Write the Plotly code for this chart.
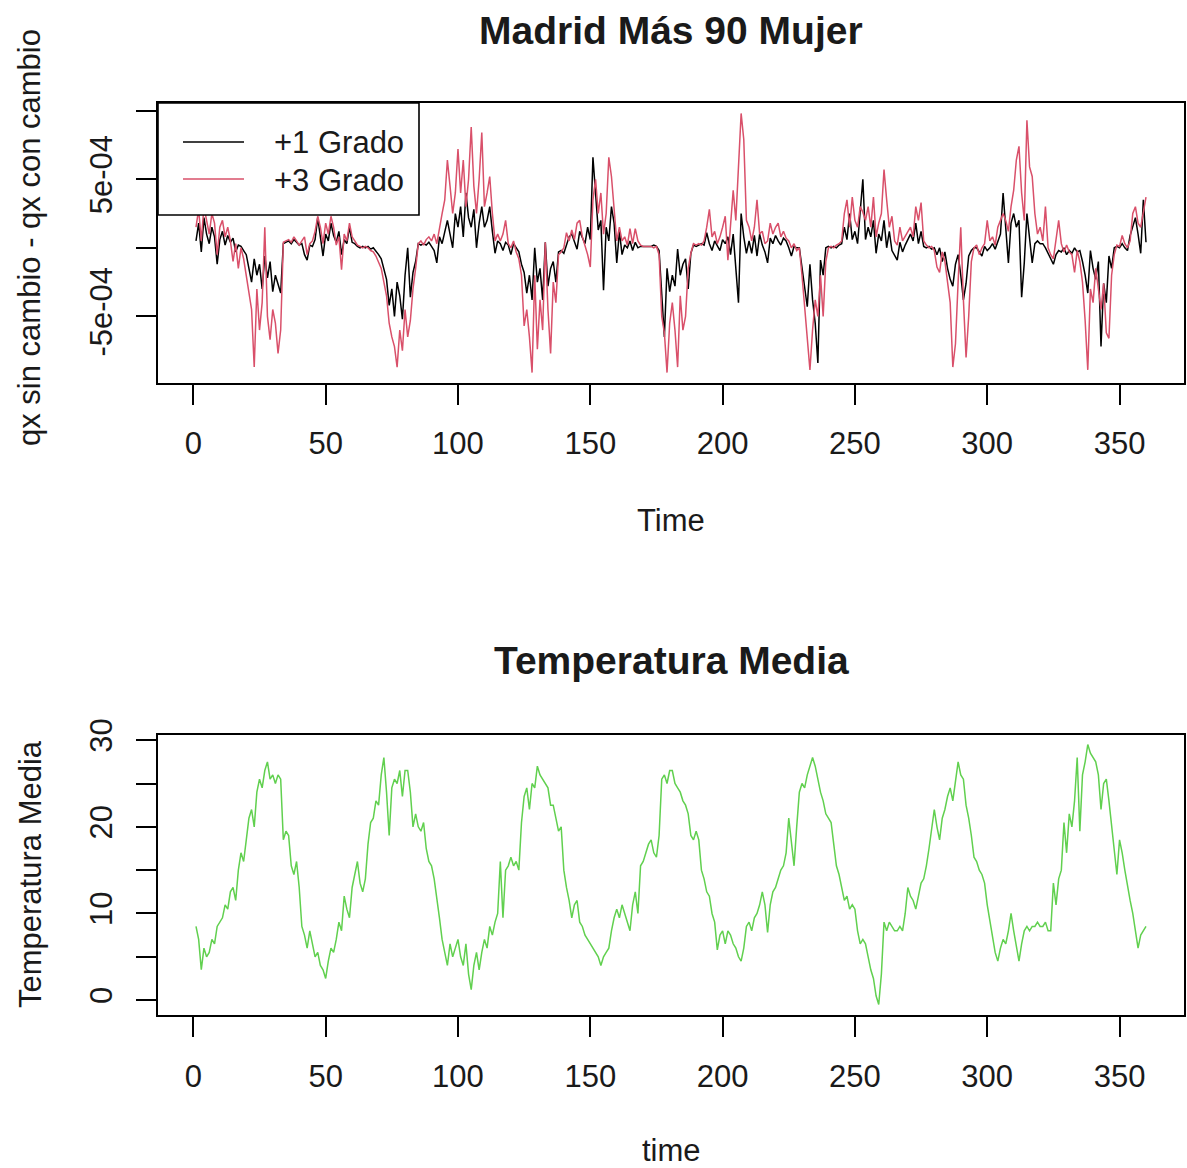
import plotly.graph_objects as go

W, H = 1187, 1168

# ---------------- data ----------------
SCALE = 1e-4  # the two qx series are written in units of 1e-4

plus1_grado = [
    0.5, 1.8, -0.3, 2.2, 1.0, 0.3, 1.5, 0.8, -1.2, 0.6,
    1.2, 0.2, 0.9, 0.4, 0.7, -0.3, 0.2, 0.1, -0.2, -0.5,
    -1.5, -2.5, -0.8, -2.0, -1.2, -3.0, -0.6, -2.2, -1.0, -3.2,
    -2.0, -2.6, -3.3, 0.3, 0.4, 0.5, 0.3, 0.6, 0.4, 0.2,
    0.3, -0.5, -0.9, 0.2, 0.1, 0.6, 2.2, 0.8, -0.6, 1.0,
    0.5, 1.8, 0.9, 0.4, 1.2, -0.5, 0.6, 0.3, 1.5, 0.4,
    0.3, 0.1, 0.0, 0.1, 0.0, 0.1, -0.1, 0.0, -0.3, -0.5,
    -0.8, -1.5, -2.3, -4.2, -3.0, -5.0, -2.5, -3.5, -5.2, -2.0,
    0.0, -3.6, -1.8, -1.0, 0.3, 0.2, 0.3, 0.2, 0.4, 0.1,
    -0.2, -1.1, 0.8, 0.3, 1.2, 2.0, 1.0, 0.0, 2.5, 1.5,
    3.0, 0.8, 4.0, 2.2, 1.5, 2.8, 0.0, 1.8, 3.0, 1.5,
    2.0, 3.0, 1.2, -0.4, 0.5, 0.3, -0.2, 0.4, 0.2, -0.5,
    0.3, 0.0, -0.3, -1.2, -1.8, -3.3, -2.0, -3.8, 0.0, -2.5,
    -1.5, -3.8, 0.4, -2.8, -1.5, -1.0, -2.5, -0.3, -0.2, -0.4,
    0.2, 0.8, 1.0, 0.5, -0.1, 1.2, 0.8, 0.3, 1.5, 0.6,
    6.6, 3.7, 1.3, 2.0, -3.1, 1.5, 0.5, 3.0, 1.8, -1.1,
    1.2, -0.5, 0.2, 0.0, 0.5, -0.2, 0.4, 0.0, 0.1, 0.1,
    0.1, 0.1, 0.1, 0.2, 0.1, -0.2, -3.1, -6.5, -1.5, -3.2,
    -2.0, -2.8, -0.1, -2.0, -1.2, -0.8, -3.0, -0.4, 0.2, 0.1,
    0.2, 0.3, 0.2, 1.1, 0.3, -0.2, 0.5, 0.1, -0.2, 0.6,
    0.3, 0.8, -0.5, 1.0, -1.4, -4.0, 2.5, 0.8, -0.4, 0.5,
    -0.4, 0.9, -0.6, 1.0, 0.2, -0.3, -1.1, 0.7, 0.3, 0.9,
    0.5, 0.2, 0.7, 0.5, 0.0, -0.6, 0.1, 0.0, 0.0, -1.4,
    -2.8, -4.3, -1.2, -3.8, -5.5, -8.4, -0.9, -2.0, 0.0, 0.1,
    0.0, 0.1, 0.0, 0.2, 0.3, 1.5, 0.6, 2.5, 0.6, 1.2,
    0.3, 2.6, 5.0, 0.6, 1.5, 0.8, 2.0, -0.4, 1.0, 0.5,
    2.0, 0.0, 1.2, -0.2, -0.5, -0.9, 0.4, -0.3, 0.2, 0.6,
    1.0, 0.5, 1.8, 0.3, 1.2, 0.1, 0.0, 0.1, -0.1, 0.0,
    -0.5, 0.0, -1.0, -0.3, -1.5, -2.3, -2.8, -1.2, -0.5, -2.0,
    -3.8, -2.6, -0.6, -0.2, 0.0, 0.0, -0.3, -0.6, 0.1, -0.2,
    0.0, 0.3, -0.1, 0.5, 1.0, 4.0, 1.2, -1.1, 1.8, 2.5,
    1.5, 2.0, -3.6, -1.1, 2.5, 0.8, -1.1, 0.3, 0.5, 0.3,
    0.3, 0.0, -0.4, -0.8, -1.2, -0.5, -0.2, -0.3, 0.0, -0.5,
    -0.2, -0.4, 0.0, -0.3, -0.2, -1.0, -2.0, -3.3, -0.2, -1.5,
    -2.3, -1.0, -7.2, -2.6, -4.0, -0.6, -1.5, 0.0, 0.1, 0.0,
    0.3, 0.0, -0.2, 0.9, 1.5, 2.2, 1.0, -0.4, 3.5, 0.4,
]

plus3_grado = [
    1.5, 2.8, 0.5, 3.0, 2.0, 1.0, 2.5, 1.8, -0.5, 1.5,
    2.0, 0.8, 1.5, 0.5, -1.0, 0.3, -1.5, 0.0, -0.8, -2.0,
    -3.0, -4.5, -8.7, -3.0, -6.0, -4.0, 1.5, -5.0, -6.7, -4.5,
    -5.5, -7.7, -6.0, 0.4, 0.5, 0.6, 0.4, 0.8, 0.5, 0.2,
    0.5, 0.8, -0.5, 0.3, 0.5, 1.2, 2.3, 1.5, 0.3, 1.8,
    1.0, 2.3, 1.5, 0.2, 0.8, -1.6, 1.0, 0.5, 1.8, 0.8,
    0.5, 0.2, 0.1, 0.0, 0.1, 0.0, -0.2, -0.3, -0.6, -1.0,
    -1.5, -2.5, -3.5, -5.5, -6.5, -7.2, -8.7, -6.0, -7.5, -4.5,
    -6.5, -5.3, -3.0, -1.5, 0.3, 0.5, 0.2, 0.6, 0.8, 0.5,
    1.0, 0.3, 1.5, 2.5, 3.5, 6.4, 4.5, 2.5, 4.0, 7.2,
    4.0, 6.4, 3.0, 5.0, 8.8, 4.5, 2.5, 5.0, 8.4, 3.0,
    4.0, 5.2, 2.5, 0.5, 1.0, 0.5, 1.0, 2.0, 0.3, 0.0,
    0.5, -0.3, -0.8, -2.0, -5.7, -4.5, -6.5, -9.1, -2.0, -7.4,
    -3.8, -6.0, 0.4, -4.5, -7.7, -2.5, -4.0, -0.5, -0.3, 0.0,
    1.1, 0.5, 1.3, 0.6, 1.8, 2.0, 0.8, 0.2, -0.5, -1.4,
    3.5, 5.0, 2.5, 4.0, 1.0, 2.5, 6.6, 5.2, 3.0, 0.5,
    1.5, 0.5, 0.8, 0.2, 1.4, 0.3, 1.4, 0.5, 0.2, 0.1,
    0.1, 0.1, 0.1, 0.0, 0.1, -0.5, -5.0, -6.2, -9.1, -5.5,
    -4.0, -6.0, -8.7, -3.5, -6.0, -5.0, -1.5, -0.4, 0.3, 0.2,
    0.3, 0.2, 0.5, 1.5, 2.8, 0.8, 1.2, 0.3, 0.8, 1.5,
    2.3, -0.9, 1.5, 4.2, 2.0, 6.4, 9.8, 7.9, 2.0, 1.5,
    0.5, 1.5, 3.5, 1.0, 1.2, 0.3, 0.5, 1.8, 1.0, 1.5,
    1.8, 0.8, 1.2, 0.7, 0.5, 0.0, 0.3, -0.2, 0.0, -2.0,
    -4.3, -6.5, -8.9, -6.0, -3.8, -5.0, -2.0, -5.0, -1.0, 0.0,
    0.1, 0.0, 0.2, 0.3, 0.5, 2.5, 3.5, 1.5, 3.7, 2.0,
    1.5, 3.0, 2.6, 2.0, 3.0, 1.5, 3.7, 0.8, 1.8, 2.5,
    5.7, 3.5, 1.5, 2.3, 0.5, 0.2, 1.5, 0.5, 0.8, 1.1,
    1.5, 0.8, 3.0, 2.0, 3.3, 0.5, 0.2, 0.0, 0.1, -0.2,
    -1.4, -1.8, -0.3, -1.0, -2.5, -4.0, -8.7, -7.0, -2.5, 1.5,
    -3.8, -8.0, -5.0, -1.0, 0.0, 0.2, -0.5, 0.0, 0.3, 2.0,
    0.5, 0.8, 0.2, 1.5, 2.0, 2.5, 2.0, 1.2, 3.0, 4.2,
    6.4, 7.4, 4.0, 2.0, 9.3, 5.9, 5.2, 2.5, 1.0, 1.5,
    0.5, 3.0, 0.0, -0.5, -0.8, 0.5, 2.0, 0.3, -0.3, 0.2,
    -0.3, -0.5, -1.8, -0.2, -1.0, -2.5, -5.3, -8.9, -3.0, -4.0,
    -1.5, -3.0, -4.5, -2.6, -6.2, -6.6, -2.0, -0.5, 0.2, 0.1,
    0.9, 0.3, 0.0, 0.5, 2.5, 3.0, 1.8, 1.5, 2.5, 3.7,
]

temperatura_media = [
    8.5, 7, 3.5, 6, 5, 5.5, 7, 6.5, 8.5, 9,
    9.5, 11, 10.5, 12.5, 13, 11.5, 15, 17, 16, 18.5,
    21, 22, 20, 24, 25.5, 24.5, 26.5, 27.5, 25.5, 26,
    25, 26, 25.5, 18.5, 19.5, 19, 15.5, 14.5, 16, 13,
    8.5, 7.5, 6, 8, 6.5, 5, 5.5, 4, 3.5, 2.5,
    4.5, 6, 5.5, 7, 9, 8, 12, 10.5, 9.5, 13,
    14.5, 16, 13.5, 12.5, 14, 18, 20.5, 21, 23, 22.5,
    26, 28, 24, 19, 24.5, 25.5, 25, 26.5, 23.5, 26.5,
    26.5, 24, 20, 21.5, 20, 19.5, 20.5, 17.5, 16, 15.5,
    14, 12, 9.5, 7, 5.5, 4, 6.5, 5, 6, 7,
    5, 4, 6.5, 3, 1.2, 4, 5.5, 3.5, 5.5, 7,
    6, 8.5, 7.5, 9, 10, 16, 9.5, 15, 15.5, 16.5,
    15.5, 16, 15, 20.5, 23.5, 24.5, 22, 25, 24.5, 27,
    26, 25.5, 25, 24.5, 22.5, 22.5, 21, 19.5, 20, 15,
    13, 11.5, 9.5, 11, 11.5, 9, 8.5, 7.5, 7, 6.5,
    6, 5.5, 5, 4, 5, 5.5, 6, 8, 9.5, 10.5,
    9.5, 11, 10, 9, 8, 11, 12.5, 10, 15.5, 16,
    17, 18, 18.5, 17, 16.5, 19, 25.5, 26, 25, 26.5,
    26.5, 25, 24.5, 24, 23, 22.5, 21.5, 19, 18.5, 19.5,
    18.5, 15, 14, 12.5, 12, 10, 9, 5.8, 7.5, 8,
    6.5, 8, 7.5, 6.5, 6, 5, 4.5, 6, 8.5, 9,
    8, 9.5, 10, 11, 12.5, 11, 7.8, 11, 12.5, 13,
    14, 15, 15.5, 17, 21, 18, 15.5, 20, 24, 25,
    24.5, 26, 27, 28, 27, 25.5, 24, 23, 21.5, 21,
    20.5, 18, 15.5, 14.5, 13, 11.5, 12, 10.5, 11, 10.5,
    8, 6.5, 7, 6.5, 5, 3.5, 2.5, 0.5, -0.5, 3,
    9, 8, 9, 8.5, 8, 8, 8.5, 8, 10, 13,
    12, 11.5, 10.5, 12, 13.5, 14, 15.5, 17.5, 19.5, 22,
    20, 18.5, 21, 22, 23.5, 24.5, 23, 25.5, 27.5, 26,
    25.5, 22.5, 21, 19, 16.5, 16, 15, 14.5, 13.5, 11,
    9, 7, 5.5, 4.5, 6, 7, 6.5, 8, 10, 8,
    6, 4.5, 6.5, 8, 8.5, 8, 8.5, 8.5, 9, 8.5,
    8.5, 9, 8, 8, 13.5, 11, 14, 15, 20.5, 17,
    21.5, 20, 23, 28, 19.5, 26, 27.5, 29.5, 28.5, 28,
    27.5, 26, 22, 25, 25.5, 23, 20, 17, 14.5, 18.5,
    17, 15, 13, 11.5, 10, 8, 6, 7.5, 8, 8.5,
]

assert len(plus1_grado) == len(plus3_grado) == len(temperatura_media), (
    len(plus1_grado), len(plus3_grado), len(temperatura_media))

time = list(range(1, len(temperatura_media) + 1))
x_ticks = [0, 50, 100, 150, 200, 250, 300, 350]
qx_tickvals = [-5e-4, 0, 5e-4, 1e-3]
qx_ticktext = ["-5e-04", "", "5e-04", ""]
temp_tickvals = [0, 5, 10, 15, 20, 25, 30]
temp_ticktext = ["0", "", "10", "", "20", "", "30"]

legend_labels = ["+1 Grado", "+3 Grado"]
series_colors = ["#000000", "#D9506A"]
temp_color = "#61D04F"

# ---------------- figure ----------------
FONT = "Liberation Sans, Arial, sans-serif"
TXT = "#1a1a1a"


def px_x(p):
    return p / W


def px_y(p):
    return 1 - p / H


fig = go.Figure()
fig.add_trace(go.Scatter(x=time, y=[v * SCALE for v in plus1_grado], mode="lines",
                         line=dict(color=series_colors[0], width=1.5),
                         name=legend_labels[0], xaxis="x", yaxis="y", showlegend=False))
fig.add_trace(go.Scatter(x=time, y=[v * SCALE for v in plus3_grado], mode="lines",
                         line=dict(color=series_colors[1], width=1.5),
                         name=legend_labels[1], xaxis="x", yaxis="y", showlegend=False))
fig.add_trace(go.Scatter(x=time, y=temperatura_media, mode="lines",
                         line=dict(color=temp_color, width=1.5),
                         name="Temperatura Media", xaxis="x2", yaxis="y2", showlegend=False))

axis_common = dict(showline=True, mirror=True, linecolor="black", linewidth=1.6,
                   ticks="outside", ticklen=20, tickwidth=1.6, tickcolor="black",
                   showgrid=False, zeroline=False, automargin=False,
                   tickfont=dict(family=FONT, size=31, color=TXT))

x_dom = [px_x(158), px_x(1184)]
fig.update_layout(
    template="none",
    width=W, height=H, margin=dict(l=0, r=0, t=0, b=0, pad=0),
    paper_bgcolor="white", plot_bgcolor="white", showlegend=False,
    xaxis=dict(domain=x_dom, anchor="y", range=[-13.36, 374.36], tickvals=x_ticks,
               ticklabelstandoff=12, **axis_common),
    yaxis=dict(domain=[px_y(383), px_y(103)], anchor="x", range=[-9.86e-4, 10.56e-4],
               tickvals=qx_tickvals, ticktext=qx_ticktext, tickangle=-90,
               ticklabelstandoff=12, **axis_common),
    xaxis2=dict(domain=x_dom, anchor="y2", range=[-13.36, 374.36], tickvals=x_ticks,
                ticklabelstandoff=13, **axis_common),
    yaxis2=dict(domain=[px_y(1015), px_y(735)], anchor="x2", range=[-1.72, 30.6],
                tickvals=temp_tickvals, ticktext=temp_ticktext, tickangle=-90,
                ticklabelstandoff=12, **axis_common),
)

cx = px_x(671)
annotations = [
    dict(text="Madrid Más 90 Mujer", x=cx, y=px_y(30), font=dict(size=39, weight="bold")),
    dict(text="Time", x=cx, y=px_y(520), font=dict(size=31)),
    dict(text="qx sin cambio - qx con cambio", x=px_x(30), y=px_y(238), textangle=-90,
         font=dict(size=31)),
    dict(text="Temperatura Media", x=cx, y=px_y(660), font=dict(size=39, weight="bold")),
    dict(text="time", x=cx, y=px_y(1150), font=dict(size=31)),
    dict(text="Temperatura Media", x=px_x(30), y=px_y(874), textangle=-90,
         font=dict(size=31)),
    dict(text=legend_labels[0], x=px_x(272), y=px_y(143), xanchor="left", font=dict(size=31)),
    dict(text=legend_labels[1], x=px_x(272), y=px_y(180), xanchor="left", font=dict(size=31)),
]
for a in annotations:
    a.setdefault("xanchor", "center")
    a["yanchor"] = "middle"
    a["xref"] = "paper"
    a["yref"] = "paper"
    a["showarrow"] = False
    a["font"] = dict(family=FONT, color=TXT, **a["font"])
fig.update_layout(annotations=annotations)

# manual legend box (drawn above the data, like R's opaque legend)
shapes = [
    dict(type="rect", x0=px_x(158), x1=px_x(419), y0=px_y(215), y1=px_y(103),
         fillcolor="white", line=dict(color="black", width=1.6)),
    dict(type="line", x0=px_x(183), x1=px_x(244), y0=px_y(142), y1=px_y(142),
         line=dict(color=series_colors[0], width=1.6)),
    dict(type="line", x0=px_x(183), x1=px_x(244), y0=px_y(179), y1=px_y(179),
         line=dict(color=series_colors[1], width=1.6)),
]
for s in shapes:
    s["xref"] = "paper"
    s["yref"] = "paper"
    s["layer"] = "above"
fig.update_layout(shapes=shapes)

fig.write_html("out.html")
